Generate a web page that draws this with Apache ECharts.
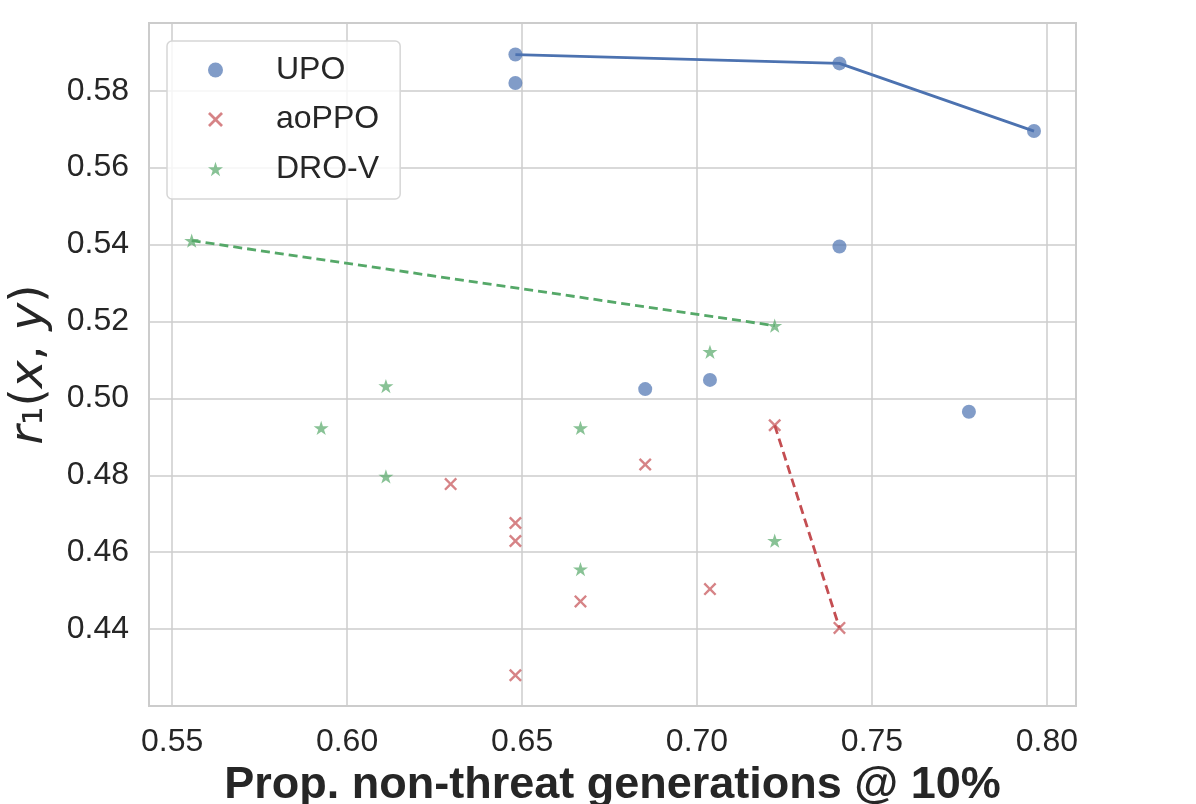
<!DOCTYPE html>
<html>
<head>
<meta charset="utf-8">
<script src="https://cdn.jsdelivr.net/npm/echarts@6/dist/echarts.min.js"></script>
<style>
html,body{margin:0;padding:0;background:#fff;}
#chart{width:1196px;height:804px;}
</style>
</head>
<body>
<div id="chart"></div>
<script>
// ---- data ----
const upoX = [0.6481, 0.6481, 0.7407, 0.7963, 0.7407, 0.6852, 0.7037, 0.7777];
const upoY = [0.5894, 0.5820, 0.5871, 0.5695, 0.5395, 0.5024, 0.5048, 0.4965];
const aoX  = [0.6296, 0.6481, 0.6481, 0.6852, 0.6667, 0.7037, 0.7222, 0.7407, 0.6481];
const aoY  = [0.4777, 0.4676, 0.4629, 0.4828, 0.4472, 0.4504, 0.4930, 0.4403, 0.4280];
const droX = [0.5556, 0.5926, 0.6111, 0.6111, 0.6667, 0.6667, 0.7037, 0.7222, 0.7222];
const droY = [0.5410, 0.4923, 0.5032, 0.4797, 0.4923, 0.4556, 0.5121, 0.5189, 0.4630];

const upoFrontX = [0.6481, 0.7407, 0.7963];
const upoFrontY = [0.5894, 0.5871, 0.5695];
const aoFrontX  = [0.7222, 0.7407];
const aoFrontY  = [0.4930, 0.4403];
const droFrontX = [0.5556, 0.7222];
const droFrontY = [0.5410, 0.5189];

const xTicks = [0.55, 0.60, 0.65, 0.70, 0.75, 0.80];
const yTicks = [0.44, 0.46, 0.48, 0.50, 0.52, 0.54, 0.56, 0.58];
const seriesNames = ['UPO', 'aoPPO', 'DRO-V'];

// ---- styling ----
const BLUE = '#4C72B0', RED = '#C44E52', GREEN = '#55A868';
const STAR = 'path://M50,0 L61.2,34.5 L97.6,34.5 L68.2,55.9 L79.4,90.5 L50,69.1 L20.6,90.5 L31.8,55.9 L2.4,34.5 L38.8,34.5 Z';
const CROSS = 'path://M0,1.3 L1.3,0 L5,3.7 L8.7,0 L10,1.3 L6.3,5 L10,8.7 L8.7,10 L5,6.3 L1.3,10 L0,8.7 L3.7,5 Z';
const zip = (xs, ys) => xs.map((x, i) => [x, ys[i]]);
const tickFont = 'Liberation Sans, Arial, sans-serif';

const chart = echarts.init(document.getElementById('chart'));
chart.setOption({
  backgroundColor: '#ffffff',
  animation: false,
  grid: {
    left: 149, top: 23, right: 120, bottom: 98,
    containLabel: false, outerBoundsMode: 'none',
    show: true, borderColor: '#cccccc', borderWidth: 2, backgroundColor: '#ffffff'
  },
  legend: {
    orient: 'vertical',
    left: 167, top: 41,
    padding: [13, 21, 14, 41],
    itemGap: 17.5,
    itemWidth: 15, itemHeight: 15,
    backgroundColor: 'rgba(255,255,255,0.8)',
    borderColor: '#d6d6d6', borderWidth: 1.5, borderRadius: 5,
    data: seriesNames,
    textStyle: { fontFamily: tickFont, fontSize: 32, color: '#262626', padding: [0, 0, 0, 48] }
  },
  xAxis: {
    type: 'value',
    min: 0.5434, max: 0.8083,
    axisLine: { show: false },
    axisTick: { show: false, customValues: xTicks },
    axisLabel: {
      customValues: xTicks,
      formatter: v => v.toFixed(2),
      fontFamily: tickFont, fontSize: 32, color: '#262626', margin: 20
    },
    splitLine: { show: true, lineStyle: { color: '#cccccc', width: 1.5 } },
    name: 'Prop. non-threat generations @ 10%',
    nameLocation: 'middle', nameGap: 48,
    nameTextStyle: { fontFamily: tickFont, fontSize: 45, fontWeight: 'bold', color: '#262626' }
  },
  yAxis: {
    type: 'value',
    min: 0.42, max: 0.5976,
    axisLine: { show: false },
    axisTick: { show: false, customValues: yTicks },
    axisLabel: {
      customValues: yTicks,
      formatter: v => v.toFixed(2),
      fontFamily: tickFont, fontSize: 32, color: '#262626', margin: 20
    },
    splitLine: { show: true, lineStyle: { color: '#cccccc', width: 1.5 } },
    name: '{i|r}{n|₁(}{i|x}{n|, }{i|y}{n|)}',
    nameLocation: 'middle', nameGap: 96, nameRotate: 90,
    nameTextStyle: {
      color: '#262626',
      rich: {
        i: { fontFamily: 'DejaVu Sans', fontStyle: 'italic', fontSize: 47, color: '#262626' },
        n: { fontFamily: 'DejaVu Sans', fontSize: 47, color: '#262626' }
      }
    }
  },
  series: [
    {
      name: 'UPO', type: 'scatter', data: zip(upoX, upoY),
      symbol: 'circle', symbolSize: 14,
      itemStyle: { color: BLUE, opacity: 0.7 }, z: 3
    },
    {
      name: 'aoPPO', type: 'scatter', data: zip(aoX, aoY),
      symbol: CROSS, symbolSize: 13,
      itemStyle: { color: RED, opacity: 0.7 }, z: 3
    },
    {
      name: 'DRO-V', type: 'scatter', data: zip(droX, droY),
      symbol: STAR, symbolSize: 15, symbolKeepAspect: true,
      itemStyle: { color: GREEN, opacity: 0.7 }, z: 3
    },
    {
      name: 'UPO front', type: 'line', data: zip(upoFrontX, upoFrontY),
      symbol: 'none', lineStyle: { color: BLUE, width: 2.8 }, z: 4, silent: true
    },
    {
      name: 'aoPPO front', type: 'line', data: zip(aoFrontX, aoFrontY),
      symbol: 'none', lineStyle: { color: RED, width: 2.8, type: [9, 5] }, z: 4, silent: true
    },
    {
      name: 'DRO-V front', type: 'line', data: zip(droFrontX, droFrontY),
      symbol: 'none', lineStyle: { color: GREEN, width: 2.8, type: [9, 5] }, z: 4, silent: true
    }
  ]
});
</script>
</body>
</html>
